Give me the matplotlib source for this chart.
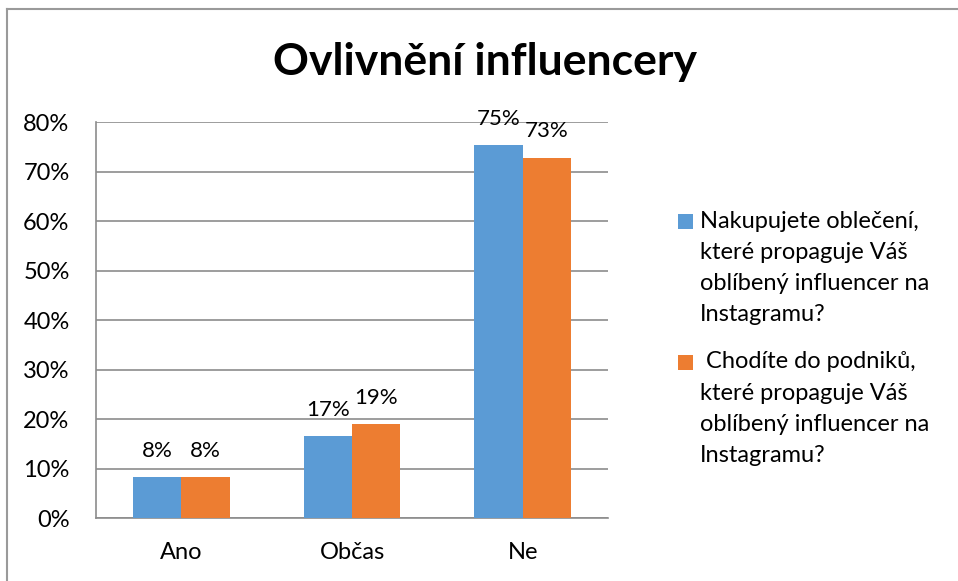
import matplotlib
matplotlib.use("Agg")
import matplotlib.pyplot as plt
import numpy as np
from matplotlib.lines import Line2D
from matplotlib.patches import Rectangle

plt.rcParams["font.family"] = ["Lato", "DejaVu Sans"]

categories = ["Ano", "Občas", "Ne"]
clothes_name = ["Nakupujete oblečení,", "které propaguje Váš",
                "oblíbený influencer na", "Instagramu?"]
venues_name = [" Chodíte do podniků,", "které propaguje Váš",
               "oblíbený influencer na", "Instagramu?"]
clothes = [0.082, 0.165, 0.753]
venues = [0.082, 0.19, 0.728]
clothes_labels = ["8%", "17%", "75%"]
venues_labels = ["8%", "19%", "73%"]
yticks = [0, 0.1, 0.2, 0.3, 0.4, 0.5, 0.6, 0.7, 0.8]
ytick_labels = ["0%", "10%", "20%", "30%", "40%", "50%", "60%", "70%", "80%"]

BLUE = "#5B9BD5"
ORANGE = "#ED7D31"
GRID = "#8C8C8C"
FS = 17

fig = plt.figure(figsize=(9.58, 5.81), dpi=100)
ax = fig.add_axes([0.1002, 0.1084, 0.5345, 0.6816])

x = np.arange(len(categories))
w = 0.284
b1 = ax.bar(x - w / 2, clothes, width=w, color=BLUE, zorder=3)
b2 = ax.bar(x + w / 2, venues, width=w, color=ORANGE, zorder=3)

for bars, labels in ((b1, clothes_labels), (b2, venues_labels)):
    for rect, lab in zip(bars, labels):
        ax.annotate(lab, (rect.get_x() + rect.get_width() / 2, rect.get_height()),
                    xytext=(0, 19), textcoords="offset points",
                    ha="center", va="center", fontsize=16, zorder=4)

ax.set_xlim(-0.5, 2.5)
ax.set_ylim(0, 0.8)
ax.set_yticks(yticks)
ax.set_yticklabels(ytick_labels)
ax.set_xticks(x)
ax.set_xticklabels(categories)
ax.tick_params(axis="both", length=0, labelsize=FS)
ax.tick_params(axis="y", pad=19)
ax.tick_params(axis="x", pad=17)
ax.grid(True, axis="y", color=GRID, linewidth=1.2, zorder=0)

for side in ("top", "right"):
    ax.spines[side].set_visible(False)
for side in ("left", "bottom"):
    ax.spines[side].set_color(GRID)
    ax.spines[side].set_linewidth(1.2)

fig.text(0.506, 0.893, "Ovlivnění influencery", ha="center", va="center",
         fontsize=32, fontweight="bold")

# legend drawn by hand so the swatch sits next to the first line
H = 581.0
W = 958.0
for color, lines, y0 in ((BLUE, clothes_name, 221), (ORANGE, venues_name, 362)):
    fig.add_artist(Rectangle((678 / W, 1 - (y0 + 8) / H), 15 / W, 15 / H,
                             transform=fig.transFigure, facecolor=color, edgecolor="none"))
    for i, line in enumerate(lines):
        fig.text(700 / W, 1 - (y0 + i * 31.3) / H, line, ha="left", va="center",
                 fontsize=FS)

# outer frame, only top and left edges show
fig.add_artist(Line2D([7 / W, 1], [1 - 9 / H, 1 - 9 / H], transform=fig.transFigure,
                      color="#9A9A9A", linewidth=1.5))
fig.add_artist(Line2D([7 / W, 7 / W], [0, 1 - 9 / H], transform=fig.transFigure,
                      color="#9A9A9A", linewidth=1.5))

fig.savefig("out.png", dpi=100)
